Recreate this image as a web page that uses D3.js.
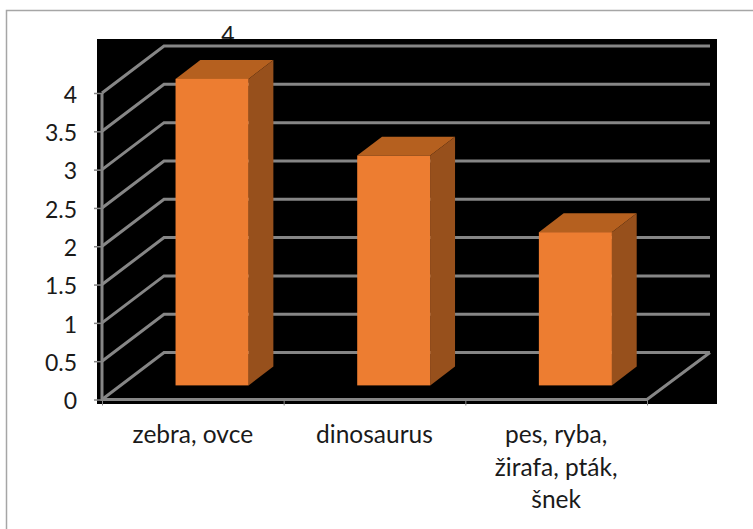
<!DOCTYPE html>
<html>
<head>
<meta charset="utf-8">
<style>
html,body{margin:0;padding:0;background:#fff;}
svg{display:block;}
text{font-family:Lato,"Open Sans",sans-serif;fill:#1a1a1a;}
</style>
<script src="https://cdn.jsdelivr.net/npm/d3@7"></script>
</head>
<body>
<svg id="c" width="753" height="529"></svg>
<script>
const categories = ["zebra, ovce", "dinosaurus", "pes, ryba, žirafa, pták, šnek"];
const categoryLines = [["zebra, ovce"], ["dinosaurus"], ["pes, ryba,", "žirafa, pták,", "šnek"]];
const values = [4, 3, 2];
const yTicks = [0, 0.5, 1, 1.5, 2, 2.5, 3, 3.5, 4];
const dataLabels = ["4"];

const svg = d3.select("#c");
const fontSize = 24.5, tickFontSize = 23;

// frame
svg.append("path").attr("d", "M6.5,529V10.5H753").attr("fill", "none")
  .attr("stroke", "#a6a6a6").attr("stroke-width", 1.5);

// scales
const x = d3.scaleBand().domain(categories).range([102, 647]).paddingInner(0.598).paddingOuter(0.299);
const y = d3.scaleLinear().domain([0, 4]).range([399.5, 93]);
const depthX = 62, depthY = -47, rightBack = 710;

// data label partially hidden by the plot background
svg.append("text").attr("x", x(categories[0]) + x.bandwidth() / 2 + 35).attr("y", 43)
  .attr("text-anchor", "middle").attr("font-size", tickFontSize).text(dataLabels[0]);

// plot background
svg.append("rect").attr("x", 97).attr("y", 39).attr("width", 620).attr("height", 365).attr("fill", "#000");

// walls / gridlines
const grid = svg.append("g").attr("fill", "none").attr("stroke", "#868686").attr("stroke-width", 3);
grid.selectAll("path.g").data(yTicks).join("path").attr("class", "g")
  .attr("d", d => `M${x.range()[0]},${y(d)}L${x.range()[0] + depthX},${y(d) + depthY}H${rightBack}`);
grid.append("path").attr("d", `M${x.range()[0]},${y(4)}V${y(0)}H${x.range()[1]}L${rightBack},${y(0) + depthY}`);

// axes (ticks and labels)
const yAxis = d3.axisLeft(y).tickValues(yTicks).tickSize(8).tickPadding(17).tickFormat(d3.format("~g"));
const yG = svg.append("g").attr("transform", "translate(102,0)").call(yAxis);
yG.select(".domain").remove();
yG.selectAll("line").attr("stroke", "#868686").attr("stroke-width", 1.5);
yG.selectAll("text").attr("font-size", tickFontSize).attr("font-family", null).attr("dy", "0.4em").attr("fill", null);

const tickX = d3.scaleLinear().domain([0, categories.length]).range(x.range());
const xAxis = d3.axisBottom(tickX).tickValues(d3.range(categories.length + 1)).tickSize(6).tickFormat("");
const xG = svg.append("g").attr("transform", `translate(0,${y(0)})`).call(xAxis);
xG.select(".domain").remove();
xG.selectAll("line").attr("stroke", "#868686").attr("stroke-width", 1);

const xl = svg.append("g").selectAll("text").data(categories).join("text")
  .attr("text-anchor", "middle").attr("font-size", fontSize)
  .attr("y", 443);
xl.each(function (d, i) {
  d3.select(this).selectAll("tspan").data(categoryLines[i]).join("tspan")
    .attr("x", x(d) + x.bandwidth() / 2)
    .attr("dy", (_, j) => j ? 32.5 : 0)
    .text(t => t);
});

// 3D bars
const barShiftX = 0.31 * depthX, barShiftY = 0.3 * depthY;
const barDepthX = 0.4 * depthX, barDepthY = 0.4 * depthY;
const bars = svg.append("g").selectAll("g").data(categories.map((c, i) => ({ c, v: values[i] }))).join("g")
  .attr("transform", `translate(${barShiftX},${barShiftY})`);
bars.append("path").attr("fill", "#b5601f").attr("d", d => {
  const a = x(d.c), w = x.bandwidth(), t = y(d.v);
  return `M${a},${t}L${a + barDepthX},${t + barDepthY}H${a + w + barDepthX}L${a + w},${t}Z`;
});
bars.append("path").attr("fill", "#97501c").attr("d", d => {
  const a = x(d.c) + x.bandwidth(), t = y(d.v), b = y(0);
  return `M${a},${t}L${a + barDepthX},${t + barDepthY}V${b + barDepthY}L${a},${b}Z`;
});
bars.append("rect").attr("fill", "#ed7d31")
  .attr("x", d => x(d.c)).attr("y", d => y(d.v))
  .attr("width", x.bandwidth()).attr("height", d => y(0) - y(d.v));
</script>
</body>
</html>
